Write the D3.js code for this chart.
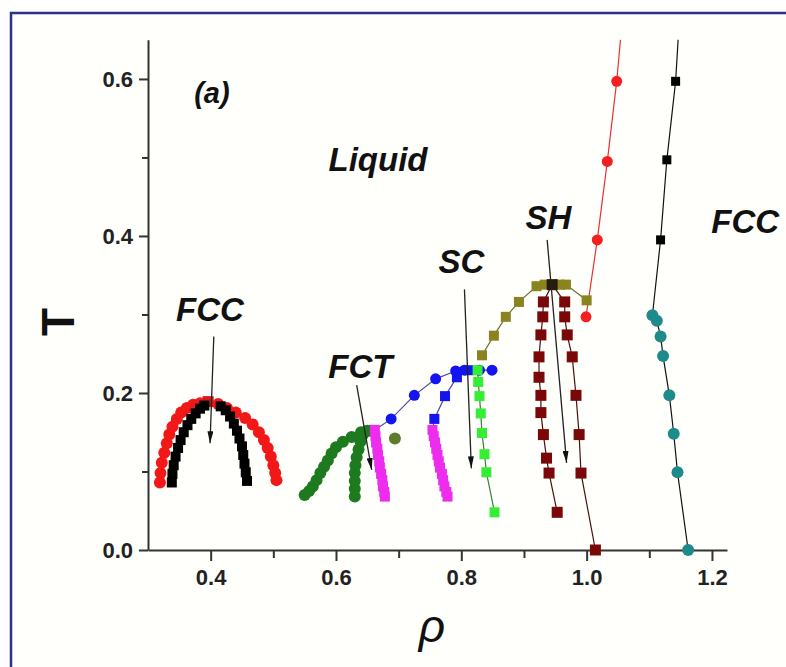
<!DOCTYPE html>
<html>
<head>
<meta charset="utf-8">
<script src="https://cdn.jsdelivr.net/npm/d3@7"></script>
<style>
  html, body { margin: 0; padding: 0; background: #ffffff; }
  svg { display: block; }
  text { font-family: "Liberation Sans", Arial, sans-serif; }
</style>
</head>
<body>
<svg id="chart" width="786" height="667"></svg>
<script>
// Phase diagram T(ρ): boundary points [ρ, T]

// low-density FCC dome
const fccOuter = [[0.319,0.086],[0.320,0.098],[0.322,0.111],[0.326,0.124],[0.330,0.136],[0.334,0.147],[0.339,0.157],[0.346,0.167],[0.353,0.175],[0.362,0.181],[0.372,0.185],[0.383,0.187],
  [0.412,0.186],[0.426,0.181],[0.440,0.175],[0.455,0.168],[0.467,0.160],[0.477,0.150],[0.485,0.140],[0.491,0.130],[0.496,0.119],[0.500,0.108],[0.503,0.098],[0.505,0.089]];
const fccPeak = [[0.396,0.189]];
const fccInner = [[0.338,0.086],[0.339,0.097],[0.341,0.108],[0.344,0.119],[0.348,0.130],[0.352,0.140],[0.357,0.150],[0.363,0.159],[0.369,0.167],[0.376,0.174],[0.383,0.180],[0.390,0.184],
  [0.416,0.183],[0.424,0.178],[0.431,0.170],[0.437,0.161],[0.442,0.152],[0.446,0.142],[0.450,0.132],[0.452,0.121],[0.454,0.110],[0.456,0.099],[0.458,0.088]];

// FCT region
const fctLeft = [[0.550,0.070],[0.557,0.075],[0.563,0.081],[0.569,0.089],[0.575,0.098],[0.581,0.106],[0.587,0.114],[0.593,0.123],[0.600,0.131],[0.611,0.138],[0.625,0.144],[0.640,0.150],[0.655,0.152]];
const fctRight = [[0.630,0.068],[0.630,0.078],[0.630,0.088],[0.630,0.098],[0.631,0.108],[0.633,0.118],[0.636,0.128],[0.639,0.138],[0.643,0.147],[0.650,0.152]];
const fctOlive = [[0.694,0.142]];
const magentaA = [[0.662,0.153],[0.663,0.145],[0.664,0.137],[0.666,0.129],[0.667,0.121],[0.669,0.113],[0.670,0.105],[0.672,0.097],[0.674,0.089],[0.675,0.081],[0.677,0.074],[0.678,0.068]];
const magentaB = [[0.754,0.153],[0.756,0.145],[0.758,0.137],[0.760,0.129],[0.762,0.121],[0.764,0.113],[0.766,0.105],[0.769,0.097],[0.771,0.089],[0.773,0.081],[0.776,0.074],[0.778,0.068]];

// FCT / SC boundaries
const blueCircles = [[0.688,0.167],[0.725,0.197],[0.759,0.218],[0.791,0.228],[0.805,0.229],[0.829,0.229],[0.849,0.229]];
const blueSquares = [[0.757,0.167],[0.774,0.196],[0.793,0.220],[0.812,0.229]];

// SC
const scGreen = [[0.826,0.229],[0.827,0.214],[0.829,0.196],[0.831,0.174],[0.833,0.149],[0.837,0.122],[0.840,0.099],[0.853,0.048]];
const scOlive = [[0.833,0.248],[0.852,0.273],[0.871,0.297],[0.892,0.316],[0.920,0.336],[0.933,0.338],[0.945,0.338],[0.957,0.338],[0.967,0.338],[1.000,0.318]];

// SH
const shPeak = [[0.945,0.338]];
const shLeft = [[0.945,0.338],[0.931,0.316],[0.930,0.297],[0.927,0.274],[0.924,0.246],[0.924,0.220],[0.927,0.197],[0.927,0.175],[0.931,0.147],[0.936,0.117],[0.940,0.098],[0.953,0.048]];
const shRight = [[0.945,0.338],[0.965,0.316],[0.965,0.297],[0.969,0.274],[0.977,0.246],[0.983,0.197],[0.988,0.147],[0.991,0.098],[1.014,0.000]];

// high-density boundaries
const shFccRed = [[0.999,0.297],[1.017,0.395],[1.033,0.495],[1.048,0.597]];
const shFccRedTop = [1.054,0.650];
const fccBlack = [[1.118,0.395],[1.128,0.497],[1.142,0.597]];
const fccBlackTop = [1.146,0.650];
const fccTeal = [[1.105,0.299],[1.112,0.292],[1.118,0.272],[1.122,0.247],[1.132,0.197],[1.139,0.148],[1.145,0.099],[1.162,0.000]];

// axis ticks
const xMajor = [0.4,0.6,0.8,1.0,1.2];
const xMinor = [0.5,0.7,0.9,1.1];
const yMajor = [0.0,0.2,0.4,0.6];
const yMinor = [0.1,0.3,0.5];

// region labels and arrows
const regionLabels = [
  { text: "(a)",    at: [0.402,0.582], size: 29 },
  { text: "Liquid", at: [0.667,0.497], size: 33 },
  { text: "FCC",    at: [0.399,0.306], size: 33 },
  { text: "FCT",    at: [0.639,0.234], size: 33 },
  { text: "SC",     at: [0.800,0.368], size: 33 },
  { text: "SH",     at: [0.939,0.423], size: 33 },
  { text: "FCC",    at: [1.253,0.418], size: 33 }
];
const arrows = [
  { from: [0.405,0.272], to: [0.399,0.136] },
  { from: [0.633,0.210], to: [0.657,0.102] },
  { from: [0.805,0.332], to: [0.816,0.104] },
  { from: [0.937,0.395], to: [0.968,0.111] }
];

const svg = d3.select("#chart");

// page frame
svg.append("rect")
  .attr("x", 11).attr("y", 13).attr("width", 790).attr("height", 670)
  .attr("fill", "#fffffb").attr("stroke", "#2f2f8c").attr("stroke-width", 2.5);

const x = d3.scaleLinear().domain([0.3, 1.224]).range([148, 727]);
const y = d3.scaleLinear().domain([0, 0.65]).range([550, 39.7]);

const axisColor = "#333";

// axes
const gx = svg.append("g").attr("transform", `translate(0,${y(0)})`);
gx.call(d3.axisBottom(x).tickValues(xMajor).tickFormat(d3.format(".1f")).tickSize(11).tickSizeOuter(0).tickPadding(8));
const gxm = svg.append("g").attr("transform", `translate(0,${y(0)})`);
gxm.call(d3.axisBottom(x).tickValues(xMinor).tickFormat("").tickSize(8).tickSizeOuter(0));

const gy = svg.append("g").attr("transform", `translate(${x(0.3)},0)`);
gy.call(d3.axisLeft(y).tickValues(yMajor).tickFormat(d3.format(".1f")).tickSize(9).tickSizeOuter(0).tickPadding(6));
const gym = svg.append("g").attr("transform", `translate(${x(0.3)},0)`);
gym.call(d3.axisLeft(y).tickValues(yMinor).tickFormat("").tickSize(6).tickSizeOuter(0));

[gx, gxm, gy, gym].forEach(g => {
  g.select(".domain").attr("stroke", axisColor).attr("stroke-width", 2);
  g.selectAll(".tick line").attr("stroke", axisColor).attr("stroke-width", 2);
  g.selectAll(".tick text").attr("fill", "#222").attr("font-size", 22).attr("font-weight", "bold");
});
gym.select(".domain").remove();
gxm.select(".domain").remove();

// axis titles
svg.append("text").attr("x", 58).attr("y", 322)
  .attr("transform", "rotate(-90,58,322)")
  .attr("text-anchor", "middle").attr("dominant-baseline", "central")
  .attr("font-size", 46).attr("font-weight", "bold").attr("fill", "#111").text("T");
svg.append("text").attr("x", 432).attr("y", 626)
  .attr("text-anchor", "middle").attr("dominant-baseline", "central")
  .attr("font-size", 46).attr("font-style", "italic").attr("fill", "#111").text("ρ");

const line = d3.line().x(d => x(d[0])).y(d => y(d[1]));

function path(pts, color, w) {
  svg.append("path").attr("d", line(pts)).attr("fill", "none")
    .attr("stroke", color).attr("stroke-width", w || 1.2);
}
function circles(pts, color, r) {
  svg.append("g").selectAll("circle").data(pts).join("circle")
    .attr("cx", d => x(d[0])).attr("cy", d => y(d[1])).attr("r", r || 5.5)
    .attr("fill", color);
}
function squares(pts, color, s) {
  s = s || 10;
  svg.append("g").selectAll("rect").data(pts).join("rect")
    .attr("x", d => x(d[0]) - s / 2).attr("y", d => y(d[1]) - s / 2)
    .attr("width", s).attr("height", s).attr("fill", color);
}

// connecting lines
path([magentaA[0], ...blueCircles], "#4a4aa8");
path([magentaB[0], ...blueSquares], "#4a4aa8");
path(scGreen, "#3a7a3a");
path(scOlive, "#6d6d2a");
path(shLeft, "#4a1010");
path(shRight, "#4a1010");
path([...shFccRed, shFccRedTop], "#e83030");
path([...fccTeal].reverse().concat(fccBlack, [fccBlackTop]), "#111");

// markers
circles(fccOuter, "#f21818", 6);
squares(fccPeak, "#d81818", 11);
squares(fccInner, "#000000", 10);

circles(fctLeft, "#1e7a1e", 6);
circles(fctRight, "#1e7a1e", 6);
circles(fctOlive, "#5e7a2a", 6);
squares(magentaA, "#ee2cee", 10);
squares(magentaB, "#ee2cee", 10);

circles(blueCircles, "#1414f0", 5.5);
squares(blueSquares, "#1414f0", 10);

squares(scGreen, "#33ee33", 10);
squares(scOlive, "#8a8420", 10);

squares(shLeft.slice(1), "#7a0808", 11);
squares(shRight.slice(1), "#7a0808", 11);
squares(shPeak, "#2a1a08", 11);

circles(shFccRed, "#f22020", 5.5);
squares(fccBlack, "#000000", 9);
circles(fccTeal, "#1f8a8a", 6);

// arrows with a slim filled head
svg.append("defs").append("marker")
  .attr("id", "head").attr("viewBox", "0 0 12 6")
  .attr("refX", 12).attr("refY", 3)
  .attr("markerWidth", 12).attr("markerHeight", 6)
  .attr("markerUnits", "userSpaceOnUse")
  .attr("orient", "auto")
  .append("path").attr("d", "M0,0 L12,3 L0,6 Z").attr("fill", "#111");
svg.selectAll(".arrow").data(arrows).join("line")
  .attr("class", "arrow")
  .attr("x1", d => x(d.from[0])).attr("y1", d => y(d.from[1]))
  .attr("x2", d => x(d.to[0])).attr("y2", d => y(d.to[1]))
  .attr("stroke", "#222").attr("stroke-width", 1.3)
  .attr("marker-end", "url(#head)");

// region labels
svg.selectAll(".region").data(regionLabels).join("text")
  .attr("class", "region")
  .attr("x", d => x(d.at[0])).attr("y", d => y(d.at[1]))
  .attr("text-anchor", "middle").attr("dominant-baseline", "central")
  .attr("font-size", d => d.size).attr("font-weight", "bold").attr("font-style", "italic")
  .attr("fill", "#111").text(d => d.text);
</script>
</body>
</html>
